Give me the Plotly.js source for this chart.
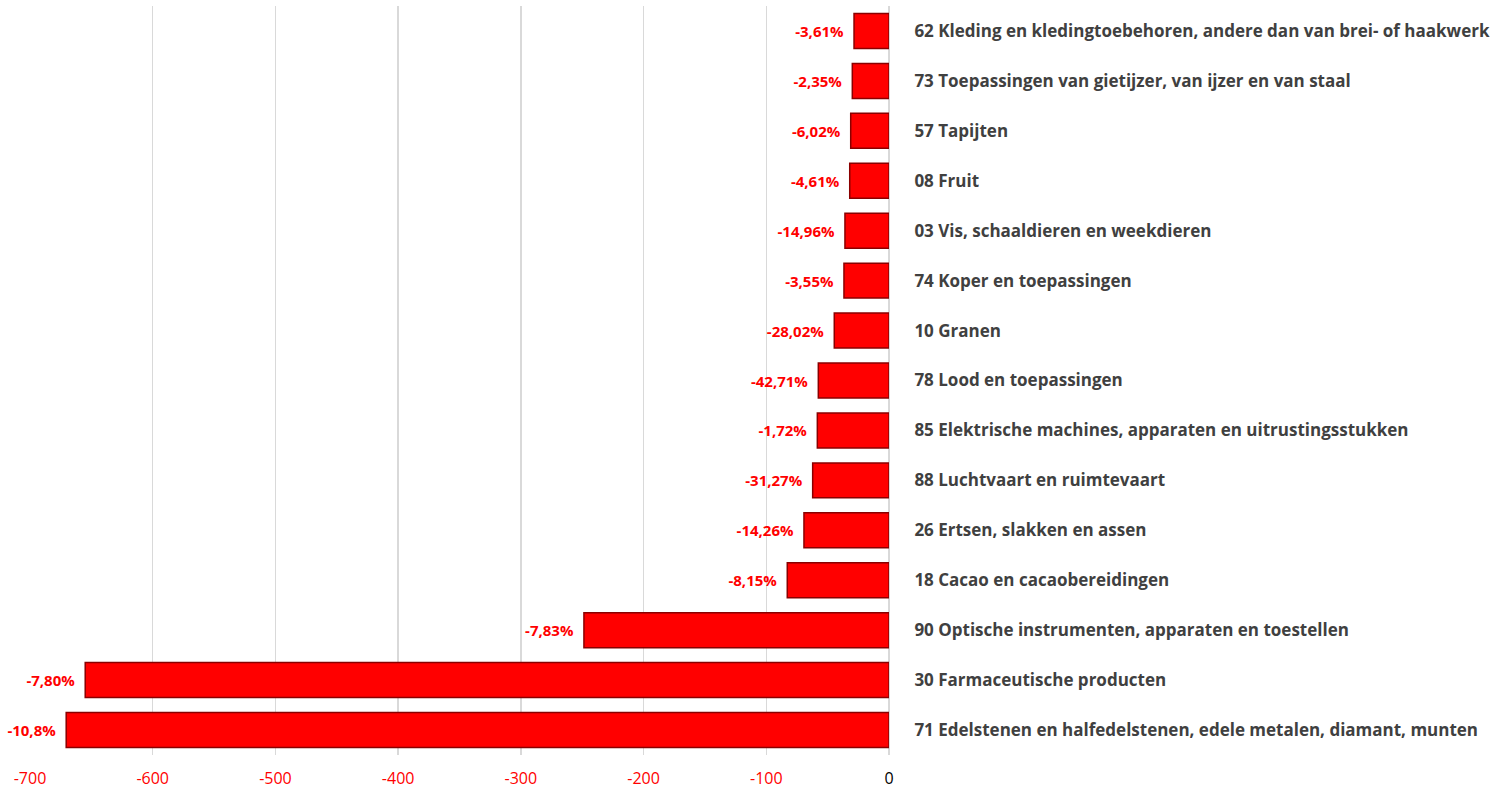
<!DOCTYPE html>
<html>
<head>
<meta charset="utf-8">
<script src="https://cdn.plot.ly/plotly-3.0.1.min.js"></script>
<style>
  html, body { margin: 0; padding: 0; background: #fff; }
  #chart { width: 1502px; height: 789px; }
</style>
</head>
<body>
<div id="chart"></div>
<script>
// categories, top to bottom
const categories = [
  '62 Kleding en kledingtoebehoren, andere dan van brei- of haakwerk',
  '73 Toepassingen van gietijzer, van ijzer en van staal',
  '57 Tapijten',
  '08 Fruit',
  '03 Vis, schaaldieren en weekdieren',
  '74 Koper en toepassingen',
  '10 Granen',
  '78 Lood en toepassingen',
  '85 Elektrische machines, apparaten en uitrustingsstukken',
  '88 Luchtvaart en ruimtevaart',
  '26 Ertsen, slakken en assen',
  '18 Cacao en cacaobereidingen',
  '90 Optische instrumenten, apparaten en toestellen',
  '30 Farmaceutische producten',
  '71 Edelstenen en halfedelstenen, edele metalen, diamant, munten'
];

// values
const values = [-28.5, -29.9, -31.2, -32.0, -35.9, -36.7, -44.6, -57.6, -58.4, -62.2, -69.3, -82.9, -248.6, -655, -670.5];

// percentage labels shown next to the bars
const pctLabels = ['-3,61%', '-2,35%', '-6,02%', '-4,61%', '-14,96%', '-3,55%', '-28,02%', '-42,71%',
  '-1,72%', '-31,27%', '-14,26%', '-8,15%', '-7,83%', '-7,80%', '-10,8%'];

const tickVals = [-700, -600, -500, -400, -300, -200, -100, 0];
const tickText = ['-700', '-600', '-500', '-400', '-300', '-200', '-100', '<span style="color:#000">0</span>'];

const trace = {
  type: 'bar',
  orientation: 'h',
  x: values,
  y: categories,
  text: pctLabels.map(t => t + '\u2009\u2009\u2009'),
  textposition: 'outside',
  cliponaxis: false,
  textfont: { family: 'Open Sans, sans-serif', size: 15, color: '#ff0000', weight: 'bold' },
  marker: { color: '#ff0000', line: { color: '#8a0000', width: 1.5 } },
  hoverinfo: 'skip'
};

const layout = {
  width: 1502,
  height: 789,
  margin: { l: 30, r: 613, t: 6, b: 34 },
  paper_bgcolor: '#ffffff',
  plot_bgcolor: '#ffffff',
  showlegend: false,
  bargap: 0.3,
  font: { family: 'Open Sans, sans-serif' },
  xaxis: {
    range: [-700, 0],
    tickvals: tickVals,
    ticktext: tickText,
    tickfont: { size: 16, color: '#ff0000' },
    showgrid: true,
    gridcolor: '#d9d9d9',
    gridwidth: 1.5,
    zeroline: true,
    zerolinecolor: '#d9d9d9',
    zerolinewidth: 1.5,
    showline: false,
    ticks: 'outside',
    ticklen: 9,
    tickcolor: 'rgba(0,0,0,0)',
    fixedrange: true
  },
  yaxis: {
    type: 'category',
    autorange: 'reversed',
    side: 'right',
    ticks: 'outside',
    ticklen: 21,
    tickcolor: 'rgba(0,0,0,0)',
    tickfont: { size: 17, color: '#404040', weight: 'bold' },
    showgrid: false,
    showline: false,
    zeroline: false,
    fixedrange: true
  }
};

Plotly.newPlot('chart', [trace], layout, { displayModeBar: false, staticPlot: true });
</script>
</body>
</html>
